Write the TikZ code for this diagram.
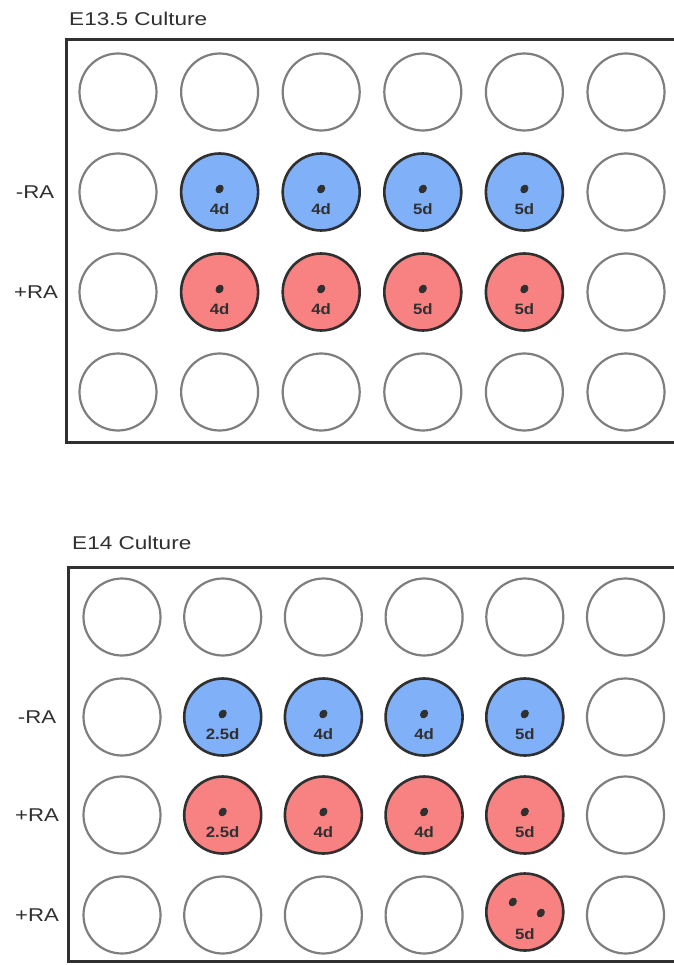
\documentclass[tikz,border=0pt]{standalone}
\usepackage{fontspec}
\setmainfont{Liberation Sans}
\definecolor{wellblue}{HTML}{80B0F8}
\definecolor{wellred}{HTML}{F88282}
\definecolor{rimgray}{HTML}{7E7E7E}
\definecolor{inkdark}{HTML}{303030}
\begin{document}
\begin{tikzpicture}[x=1pt,y=-1pt,
  emptywell/.style={circle,draw=rimgray,line width=2.2pt,minimum size=77pt,inner sep=0pt,fill=white},
  bluewell/.style={emptywell,draw=inkdark,line width=2.6pt,fill=wellblue},
  redwell/.style={bluewell,fill=wellred},
  welltext/.style={inner sep=0pt,text=inkdark,font=\bfseries\fontsize{15}{16}\selectfont},
  rowlab/.style={inner sep=0pt,text=inkdark,font=\fontsize{18.5}{20}\selectfont},
  titlelab/.style={inner sep=0pt,anchor=west,text=inkdark,font=\fontsize{18.5}{20}\selectfont},
  frameline/.style={draw=inkdark,line width=3pt},
  explant/.pic={\fill[inkdark,rotate=-35] (0,0) ellipse [x radius=3.8pt, y radius=4.6pt];}
]
\useasboundingbox[fill=white] (0,0) rectangle (673,965);

% ---------- top plate ----------
\node[titlelab] (t1) at (69,19) {\scalebox{1.22}[1]{E13.5 Culture}};
\draw[frameline] (680,40) -- (66,40) -- (66,442) -- (680,442);
\node[rowlab] (l12) at (35,192) {\scalebox{1.2}[1]{-RA}};
\node[rowlab] (l13) at (36,292) {\scalebox{1.2}[1]{+RA}};

\foreach \c in {1,...,6} {
  \node[emptywell] (A1\c) at ({118+101.6*(\c-1)},92) {};
  \node[emptywell] (A4\c) at ({118+101.6*(\c-1)},392) {};
}
\foreach \r/\yy in {2/192,3/292} {
  \node[emptywell] (A\r1) at (118,\yy) {};
  \node[emptywell] (A\r6) at (626,\yy) {};
}
\foreach \c/\t in {2/4d,3/4d,4/5d,5/5d} {
  \node[bluewell] (A2\c) at ({118+101.6*(\c-1)},192) {};
  \pic at ([yshift=3pt]A2\c.center) {explant};
  \node[welltext] (A2\c-t) at ([yshift=-17pt]A2\c.center) {\scalebox{1.12}[1]{\t}};
  \node[redwell] (A3\c) at ({118+101.6*(\c-1)},292) {};
  \pic at ([yshift=3pt]A3\c.center) {explant};
  \node[welltext] (A3\c-t) at ([yshift=-17pt]A3\c.center) {\scalebox{1.12}[1]{\t}};
}

% ---------- bottom plate ----------
\node[titlelab] (t2) at (72,543) {\scalebox{1.22}[1]{E14 Culture}};
\draw[frameline] (680,567) -- (68,567) -- (68,961) -- (680,961);
\node[rowlab] (l22) at (37,717) {\scalebox{1.2}[1]{-RA}};
\node[rowlab] (l23) at (37,815) {\scalebox{1.2}[1]{+RA}};
\node[rowlab] (l24) at (37,915) {\scalebox{1.2}[1]{+RA}};

\foreach \c in {1,...,6} {
  \node[emptywell] (B1\c) at ({122+100.7*(\c-1)},617) {};
}
\foreach \r/\yy in {2/717,3/815} {
  \node[emptywell] (B\r1) at (122,\yy) {};
  \node[emptywell] (B\r6) at (625.5,\yy) {};
}
\foreach \c in {1,2,3,4,6} {
  \node[emptywell] (B4\c) at ({122+100.7*(\c-1)},915) {};
}
\foreach \c/\t in {2/2.5d,3/4d,4/4d,5/5d} {
  \node[bluewell] (B2\c) at ({122+100.7*(\c-1)},717) {};
  \pic at ([yshift=3pt]B2\c.center) {explant};
  \node[welltext] (B2\c-t) at ([yshift=-17pt]B2\c.center) {\scalebox{1.12}[1]{\t}};
  \node[redwell] (B3\c) at ({122+100.7*(\c-1)},815) {};
  \pic at ([yshift=3pt]B3\c.center) {explant};
  \node[welltext] (B3\c-t) at ([yshift=-17pt]B3\c.center) {\scalebox{1.12}[1]{\t}};
}
\node[redwell] (B45) at (524.8,912) {};
\pic at ([xshift=-12pt,yshift=10pt]B45.center) {explant};
\pic at ([xshift=16pt,yshift=-1pt]B45.center) {explant};
\node[welltext] (B45-t) at ([yshift=-22pt]B45.center) {\scalebox{1.12}[1]{5d}};
\end{tikzpicture}
\end{document}
